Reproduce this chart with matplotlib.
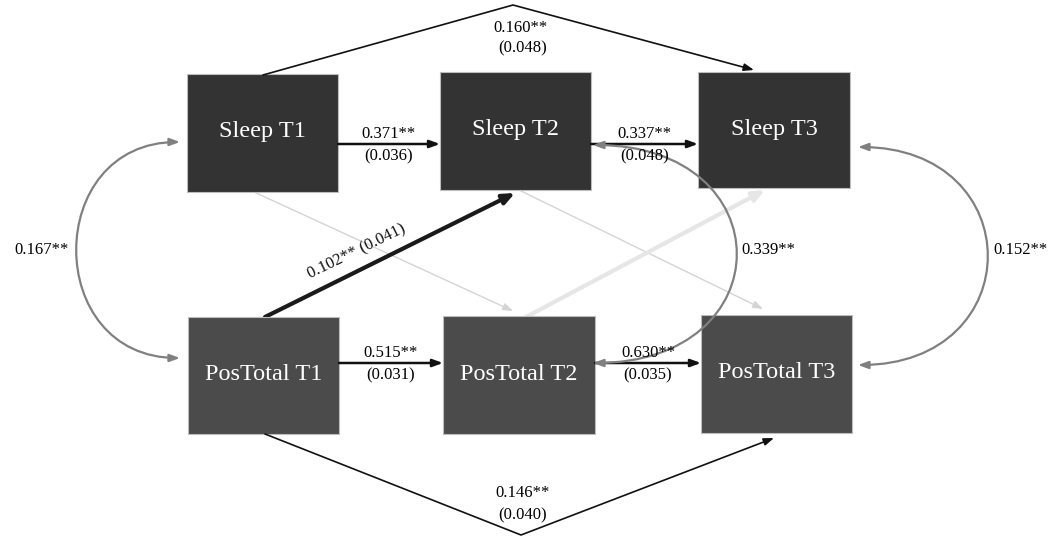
import matplotlib.pyplot as plt
from matplotlib.patches import Rectangle, FancyArrowPatch
from matplotlib.path import Path

plt.rcParams['font.family'] = ['Liberation Serif', 'DejaVu Serif']

# node names and estimated path coefficients (standard errors in brackets)
nodes = ['Sleep T1', 'Sleep T2', 'Sleep T3', 'PosTotal T1', 'PosTotal T2', 'PosTotal T3']
ar_est = [0.371, 0.337, 0.515, 0.630]      # T1->T2, T2->T3 for sleep, then PosTotal
ar_se = [0.036, 0.048, 0.031, 0.035]
lag2_est = [0.160, 0.146]                  # T1->T3 sleep, PosTotal
lag2_se = [0.048, 0.040]
cross_est = 0.102                          # PosTotal T1 -> Sleep T2
cross_se = 0.041
cov_est = [0.167, 0.339, 0.152]            # T1, T2, T3 residual covariances


def fmt(v, stars='**'):
    return f'{v:.3f}{stars}'


# box corners (x0, y0, x1, y1) in pixel space, y down
boxes = {
    'Sleep T1': (187, 74, 338, 192),
    'Sleep T2': (440, 72, 591, 190),
    'Sleep T3': (698, 72, 850, 188),
    'PosTotal T1': (188, 317, 339, 434),
    'PosTotal T2': (443, 316, 595, 434),
    'PosTotal T3': (701, 315, 852, 433),
}

fig = plt.figure(figsize=(10.54, 5.37), dpi=100)
ax = fig.add_axes([0, 0, 1, 1])
ax.set_xlim(0, 1054)
ax.set_ylim(537, 0)
ax.axis('off')


def arrow(p0, p1, color='#111111', lw=1.8, style='-|>', hl=0.6, hw=0.22, z=3):
    a = FancyArrowPatch(p0, p1, arrowstyle=f'{style},head_length={hl},head_width={hw}',
                        mutation_scale=10, color=color, lw=lw,
                        shrinkA=0, shrinkB=0, zorder=z)
    ax.add_patch(a)


def path_arrow(verts, codes, color='#111111', lw=1.2, style='-|>', z=3):
    a = FancyArrowPatch(path=Path(verts, codes),
                        arrowstyle=f'{style},head_length=0.6,head_width=0.22',
                        mutation_scale=10, color=color, lw=lw, zorder=z)
    ax.add_patch(a)


def cov_curve(x0, y0, y1, apex_x, color='#808080'):
    c = x0 + (apex_x - x0) / 0.75
    verts = [(x0, y0), (c, y0), (c, y1), (x0, y1)]
    codes = [Path.MOVETO, Path.CURVE4, Path.CURVE4, Path.CURVE4]
    path_arrow(verts, codes, color=color, lw=1.6, style='<|-|>', z=4)


# cross-lagged paths (drawn first so boxes sit on top)
arrow((254, 192), (513, 311), color='#d4d4d4', lw=1.0, z=1)
arrow((521, 191), (763, 309), color='#d4d4d4', lw=1.0, z=1)
arrow((526, 317), (765, 190), color='#e6e6e6', lw=3.0, hl=0.7, hw=0.3, z=1)
arrow((265, 317), (515, 193), color='#1a1a1a', lw=3.0, hl=0.7, hw=0.3, z=2)
ax.text(357, 252, f'{fmt(cross_est)} ({cross_se:.3f})', fontsize=12,
        rotation=26, ha='center', va='center', color='#111111')

# boxes
for name in nodes:
    x0, y0, x1, y1 = boxes[name]
    fc = '#333333' if name.startswith('Sleep') else '#4b4b4b'
    ax.add_patch(Rectangle((x0, y0), x1 - x0, y1 - y0, facecolor=fc,
                           edgecolor='#bdbdbd', lw=0.8, zorder=2))
    ax.text((x0 + x1) / 2, (y0 + y1) / 2 - 1, name, fontsize=17.5, color='white',
            ha='center', va='center', zorder=3)

# autoregressive paths
ar_lines = [((338, 144), (440, 144)), ((591, 144), (698, 144)),
            ((339, 363), (443, 363)), ((595, 363), (701, 363))]
for (p0, p1), est, se in zip(ar_lines, ar_est, ar_se):
    arrow(p0, p1)
    xm = (p0[0] + p1[0]) / 2
    ax.text(xm, p0[1] - 10, fmt(est), fontsize=12, ha='center', va='center', zorder=5)
    ax.text(xm, p0[1] + 12, f'({se:.3f})', fontsize=12, ha='center', va='center', zorder=5)

# T1 -> T3 paths
seg = [Path.MOVETO, Path.LINETO, Path.LINETO]
path_arrow([(263, 75), (513, 5), (754, 70)], seg)
ax.text(521, 28, fmt(lag2_est[0]), fontsize=12, ha='center', va='center')
ax.text(523, 48, f'({lag2_se[0]:.3f})', fontsize=12, ha='center', va='center')
path_arrow([(265, 434), (521, 535), (774, 438)], seg)
ax.text(523, 493, fmt(lag2_est[1]), fontsize=12, ha='center', va='center')
ax.text(523, 515, f'({lag2_se[1]:.3f})', fontsize=12, ha='center', va='center')

# residual covariances
cov_curve(180, 142, 358, 77)
ax.text(69, 250, fmt(cov_est[0]), fontsize=12, ha='right', va='center')
cov_curve(593, 145, 363, 736)
ax.text(741, 250, fmt(cov_est[1]), fontsize=12, ha='left', va='center')
cov_curve(858, 147, 365, 987)
ax.text(993, 250, fmt(cov_est[2]), fontsize=12, ha='left', va='center')

fig.savefig('out.png', dpi=100)
